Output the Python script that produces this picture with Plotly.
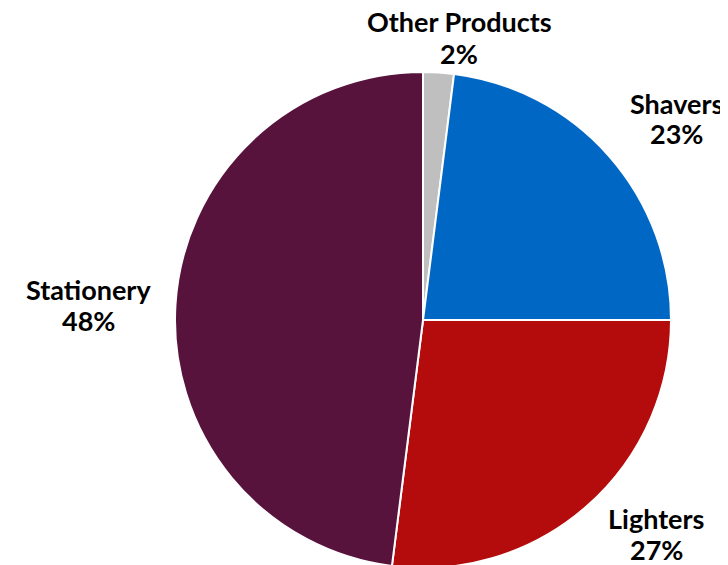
import plotly.graph_objects as go

categories = ["Other Products", "Shavers", "Lighters", "Stationery"]
values = [2, 23, 27, 48]
colors = ["#BFBFBF", "#0068C4", "#B40C0C", "#58133D"]

W, H = 728, 565
OFF = 8  # page body margin offset

fig = go.Figure(go.Pie(
    labels=categories,
    values=values,
    sort=False,
    direction="clockwise",
    rotation=0,
    marker=dict(colors=colors, line=dict(color="white", width=2)),
    textinfo="none",
    hoverinfo="label+percent",
    showlegend=False,
    domain=dict(x=[(423 - 248 - OFF) / W, (423 + 248 - OFF) / W],
                y=[(H - (320 + 248 - OFF)) / H, (H - (320 - 248 - OFF)) / H]),
))

# label centers in page pixels: (x, y line1, y line2)
label_pos = {
    "Other Products": (459, 22, 53),
    "Shavers": (676, 103, 134),
    "Lighters": (656, 518, 549),
    "Stationery": (88, 289, 320),
}
total = sum(values)
for cat, v in zip(categories, values):
    px, py1, py2 = label_pos[cat]
    for txt, py in ((cat, py1), (f"{round(100 * v / total)}%", py2)):
        fig.add_annotation(
            x=(px - OFF) / W, y=1 - (py - OFF) / H, xref="paper", yref="paper",
            text=f"<b>{txt}</b>",
            showarrow=False, xanchor="center", yanchor="middle",
            font=dict(family="Lato", size=27, color="#000000"),
            align="center",
        )

fig.update_layout(
    width=W, height=H,
    margin=dict(l=0, r=0, t=0, b=0),
    paper_bgcolor="white",
    plot_bgcolor="white",
)

fig.write_html("out.html")
